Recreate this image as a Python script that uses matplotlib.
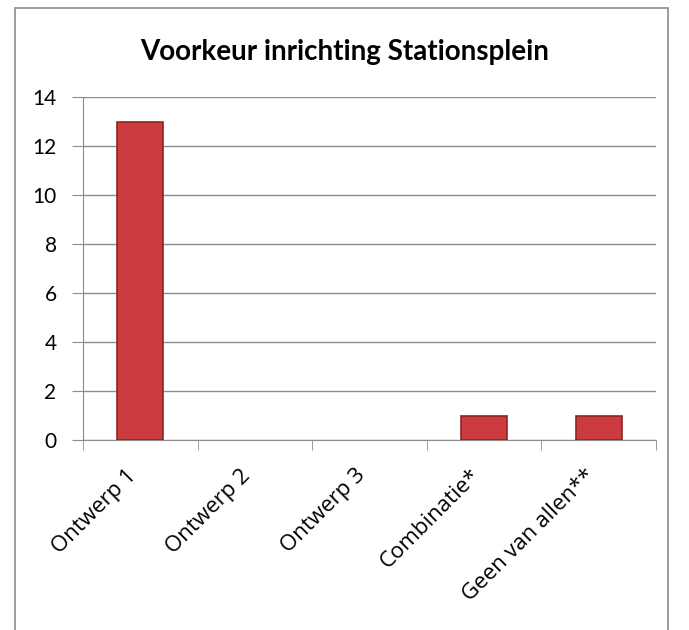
import matplotlib.pyplot as plt
from matplotlib.patches import Rectangle

categories = ['Ontwerp 1', 'Ontwerp 2', 'Ontwerp 3', 'Combinatie*', 'Geen van allen**']
counts = [13, 0, 0, 1, 1]
yticks = [0, 2, 4, 6, 8, 10, 12, 14]

plt.rcParams['font.family'] = ['Lato', 'DejaVu Sans']

fig = plt.figure(figsize=(6.89, 6.30), dpi=100)
# outer chart frame (bottom edge runs off the picture)
fig.patches.append(Rectangle((15 / 689, -0.05), (668 - 15) / 689, 1.05 - 8 / 630,
                             transform=fig.transFigure, fill=False, edgecolor='#8c8c8c', lw=1.2))

ax = fig.add_axes([83 / 689, 1 - 440 / 630, (656 - 83) / 689, (440 - 97) / 630])
x = list(range(len(categories)))
ax.bar(x, counts, width=0.4, color='#cc3b3d', edgecolor='none', zorder=3)
# darker sides to hint at the bevelled bars
ax.bar(x, counts, width=0.4, color='none', edgecolor=['#8e2426' if c else 'none' for c in counts],
       lw=1.2, zorder=4)

ax.set_xlim(-0.5, len(categories) - 0.5)
ax.set_ylim(0, 14)
ax.set_yticks(yticks)
ax.set_yticklabels([str(t) for t in yticks], fontsize=15)
ax.yaxis.grid(True, color='#8c8c8c', lw=1.0, zorder=0)
ax.tick_params(axis='y', length=8, color='#8c8c8c', pad=11)

ax.set_xticks(x)
ax.set_xticklabels(categories, rotation=45, ha='right', va='top', fontsize=16,
                   family=['Open Sans', 'DejaVu Sans'])
ax.tick_params(axis='x', length=0, pad=18)
# category boundary tick marks below the axis
ax.set_xticks([i + 0.5 for i in range(-1, len(categories))], minor=True)
ax.tick_params(axis='x', which='minor', length=7, color='#8c8c8c')

for s in ['top', 'right']:
    ax.spines[s].set_visible(False)
for s in ['left', 'bottom']:
    ax.spines[s].set_color('#8c8c8c')

fig.text(0.5, 1 - 52 / 630, 'Voorkeur inrichting Stationsplein', ha='center', va='center',
         fontsize=20, fontweight='bold')

fig.savefig('out.png', dpi=100)
